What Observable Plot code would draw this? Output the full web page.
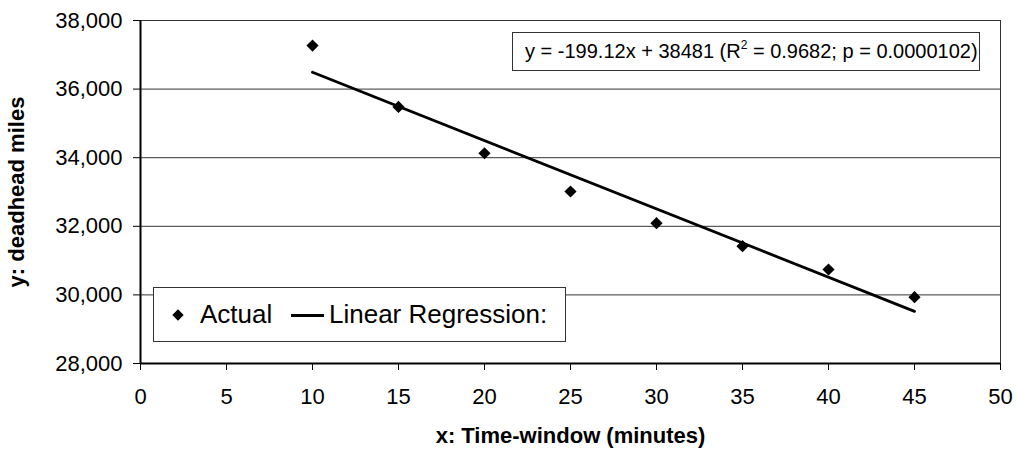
<!DOCTYPE html>
<html>
<head>
<meta charset="utf-8">
<script src="https://cdn.jsdelivr.net/npm/d3@7"></script>
<script src="https://cdn.jsdelivr.net/npm/@observablehq/plot@0.6"></script>
<style>
  body { margin: 0; background: #fff; }
  #wrap { position: relative; width: 1016px; height: 450px; font-family: "Liberation Sans", Arial, sans-serif; color: #000; }
  .box { position: absolute; background: #fff; border: 1px solid #333; box-sizing: border-box; white-space: nowrap; }
  #equation { left: 512px; top: 32px; width: 468px; height: 39px; font-size: 20px; line-height: 37px; padding-left: 12px; }
  #equation sup { font-size: 12px; vertical-align: 0; position: relative; top: -9px; }
  #legend { left: 153px; top: 287px; width: 413px; height: 55px; font-size: 26px; }
  #legend .item { position: absolute; top: 0; height: 53px; line-height: 53px; }
  #legend .diamond { position: absolute; left: 20px; top: 23px; width: 8px; height: 8px; background: #000; transform: rotate(45deg); }
  #legend .stroke { position: absolute; left: 137px; top: 26px; width: 33px; height: 3px; background: #000; }
</style>
</head>
<body>
<div id="wrap">
  <div id="chart"></div>
  <div id="equation" class="box">y = -199.12x + 38481 (R<sup>2</sup> = 0.9682; p = 0.0000102)</div>
  <div id="legend" class="box">
    <span class="diamond"></span>
    <span class="item" style="left:46px">Actual</span>
    <span class="stroke"></span>
    <span class="item" style="left:175px">Linear Regression:</span>
  </div>
</div>
<script>
// Observed deadhead miles by time-window length
const timeWindow = [10, 15, 20, 25, 30, 35, 40, 45];
const deadheadMiles = [37270, 35480, 34130, 33015, 32090, 31420, 30740, 29935];

// Fitted regression: y = slope * x + intercept
const slope = -199.12;
const intercept = 38481;
const fitRange = [10, 45];

// Axis ticks
const xTicks = [0, 5, 10, 15, 20, 25, 30, 35, 40, 45, 50];
const yTicks = [28000, 30000, 32000, 34000, 36000, 38000];

const actual = timeWindow.map((x, i) => ({x, y: deadheadMiles[i]}));
const fit = fitRange.map(x => ({x, y: slope * x + intercept}));

const chart = Plot.plot({
  width: 1016,
  height: 450,
  marginLeft: 140,
  marginRight: 16,
  marginTop: 20,
  marginBottom: 87,
  style: {fontFamily: "'Liberation Sans', Arial, sans-serif", fontSize: "22px", color: "#000", background: "#fff"},
  x: {domain: [0, 50]},
  y: {domain: [28000, 38000]},
  marks: [
    Plot.ruleY(yTicks, {stroke: "#333", strokeWidth: 1}),
    Plot.ruleX([50], {stroke: "#333", strokeWidth: 1}),
    Plot.axisY({ticks: yTicks, tickSize: 7, tickPadding: 11, tickFormat: d3.format(","), label: null}),
    Plot.axisX({ticks: xTicks, tickSize: 7, tickPadding: 18, tickFormat: d => String(d), label: null}),
    Plot.ruleX([0], {stroke: "#000", strokeWidth: 2}),
    Plot.ruleY([28000], {stroke: "#000", strokeWidth: 2}),
    Plot.line(fit, {x: "x", y: "y", stroke: "#000", strokeWidth: 2.8}),
    Plot.dot(actual, {x: "x", y: "y", symbol: "diamond2", r: 5.5, fill: "#000", stroke: "none"}),
    Plot.text(["x: Time-window (minutes)"], {frameAnchor: "bottom", dy: 72, lineAnchor: "middle", textAnchor: "middle", fontWeight: "bold", fontSize: 22}),
    Plot.text(["y: deadhead miles"], {frameAnchor: "left", dx: -124, rotate: -90, lineAnchor: "middle", textAnchor: "middle", fontWeight: "bold", fontSize: 22})
  ]
});
document.getElementById("chart").append(chart);
</script>
</body>
</html>
